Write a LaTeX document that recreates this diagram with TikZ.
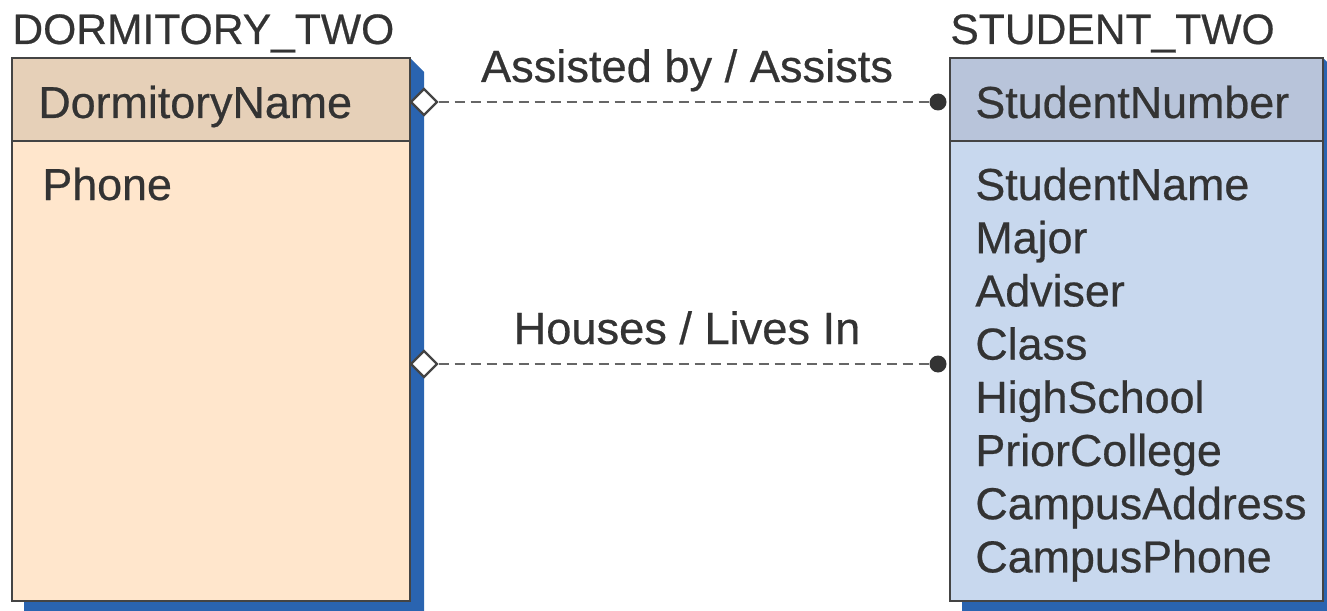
\documentclass[tikz,border=0pt]{standalone}
\usepackage{fontspec}
\setmainfont{Liberation Sans}[UprightFeatures={FakeBold=0.5}]
\usetikzlibrary{shapes.geometric}
\definecolor{txt}{HTML}{333333}
\definecolor{edge}{HTML}{444444}
\definecolor{dormhead}{HTML}{E6D0B8}
\definecolor{dormbody}{HTML}{FFE6CC}
\definecolor{studhead}{HTML}{B8C4DA}
\definecolor{studbody}{HTML}{C8D8EE}
\definecolor{shadowblue}{HTML}{2A64B0}
\definecolor{dashgray}{HTML}{666666}
\tikzset{
  attr/.style={anchor=base west, inner sep=0pt, text=txt, font=\fontsize{22.4}{26}\selectfont},
  title/.style={anchor=base west, inner sep=0pt, text=txt, font=\fontsize{21.3}{26}\selectfont},
  rel/.style={anchor=base, inner sep=0pt, text=txt, font=\fontsize{22.6}{26}\selectfont},
  boxline/.style={draw=edge, line width=1.2pt},
  relline/.style={draw=dashgray, line width=1.3pt, dash pattern=on 5pt off 3pt},
  parentend/.style={diamond, draw=edge, fill=white, line width=1.1pt, minimum size=13.5pt, inner sep=0pt},
  childend/.style={circle, fill=txt, minimum size=8.5pt, inner sep=0pt},
}
\begin{document}
\begin{tikzpicture}[x=0.5pt, y=-0.5pt]
\useasboundingbox (0,0) rectangle (1327,610);

% drop shadows
\fill[shadowblue] (24,620) -- (24,601) -- (410,601) -- (410,58) -- (424,72) -- (424,620) -- cycle;
\fill[shadowblue] (962,620) -- (962,601) -- (1323,601) -- (1323,58) -- (1337,72) -- (1337,620) -- cycle;

% DORMITORY_TWO entity
\filldraw[boxline, fill=dormbody] (12,141) rectangle (410,601);
\filldraw[boxline, fill=dormhead] (12,58) rectangle (410,141);
\node[title] (dormtitle) at (12,44) {DORMITORY\_TWO};
\node[attr] (dormkey) at (38,118) {DormitoryName};
\node[attr] (dormphone) at (42,200) {Phone};

% STUDENT_TWO entity
\filldraw[boxline, fill=studbody] (950,141) rectangle (1323,601);
\filldraw[boxline, fill=studhead] (950,58) rectangle (1323,141);
\node[title] (studtitle) at (950,44) {STUDENT\_TWO};
\node[attr] (studkey) at (975,118) {StudentNumber};
\foreach \t [count=\i from 0] in {StudentName,Major,Adviser,Class,HighSchool,PriorCollege,CampusAddress,CampusPhone}
  \node[attr] (studattr\i) at (975,{200+53.2*\i}) {\t};

% relationships
\node[parentend] (pa) at (424,102) {};
\node[childend] (ca) at (938,102) {};
\draw[relline] (pa.east) -- (ca.west);
\node[rel] (la) at (687,82) {Assisted by / Assists};

\node[parentend] (pb) at (424,364) {};
\node[childend] (cb) at (938,364) {};
\draw[relline] (pb.east) -- (cb.west);
\node[rel] (lb) at (687,344) {Houses / Lives In};
\end{tikzpicture}
\end{document}
